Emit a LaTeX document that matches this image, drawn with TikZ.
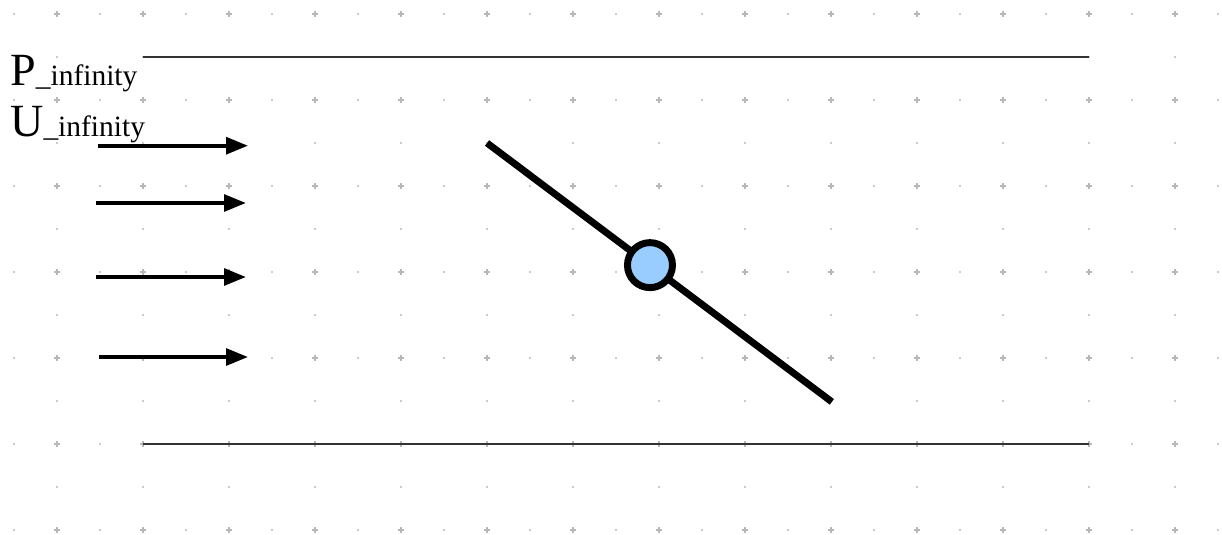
\documentclass[tikz,border=0pt]{standalone}
\usepackage{fontspec}
\setmainfont{Liberation Serif}
\usetikzlibrary{arrows.meta}
\definecolor{gridgray}{HTML}{B8B8B8}
\definecolor{hubblue}{HTML}{99CCFF}
\definecolor{walldark}{HTML}{333333}
\tikzset{
  wall/.style  = {draw=walldark, line width=1.1pt},
  flow/.style  = {-{Triangle[length=14.5pt, width=11pt]}, line width=2.6pt},
  plate/.style = {draw, line width=4.6pt},
  hub/.style   = {circle, draw, fill=hubblue, line width=4.6pt, minimum size=1.047cm, inner sep=0pt},
  lbl/.style   = {anchor=base west, inner sep=0pt}
}
\newcommand{\bigtxt}{\fontsize{30.5}{36}\selectfont}
\newcommand{\subtxt}{\fontsize{19.5}{23}\selectfont}

\begin{document}
\begin{tikzpicture}[
  gpt/.style={fill=gridgray},
  gplus/.style={draw=gridgray, line width=0.7pt}
]
  \useasboundingbox (-0.3256,0.3256) rectangle (28.093,-12.116);

  % dot grid
  \foreach \x in {0,...,28} {
    \foreach \y in {0,...,12} {
      \pgfmathtruncatemacro{\px}{mod(\x,2)}
      \pgfmathtruncatemacro{\py}{mod(\y,2)}
      \ifnum\px=1
        \ifnum\py=0
          \draw[gplus] (\x-0.06,-\y) -- (\x+0.06,-\y) (\x,-\y-0.06) -- (\x,-\y+0.06);
        \else
          \fill[gpt] (\x,-\y) circle (0.025);
        \fi
      \else
        \ifnum\py=0
          \fill[gpt] (\x,-\y) circle (0.025);
        \fi
      \fi
    }
  }

  % channel walls
  \coordinate (topL) at (3,-1);
  \coordinate (topR) at (25,-1);
  \coordinate (botL) at (3,-10);
  \coordinate (botR) at (25,-10);
  \draw[wall] (topL) -- (topR);
  \draw[wall] (botL) -- (botR);

  % labels
  \node[lbl] (pinf) at (-0.095,-1.667) {\bigtxt P\subtxt\_infinity};
  \node[lbl] (uinf) at (-0.095,-2.837) {\bigtxt U\subtxt\_infinity};

  % incoming flow
  \coordinate (f1a) at (1.953,-3.063);  \coordinate (f1b) at (5.442,-3.063);
  \coordinate (f2a) at (1.907,-4.395);  \coordinate (f2b) at (5.395,-4.395);
  \coordinate (f3a) at (1.907,-6.116);  \coordinate (f3b) at (5.395,-6.116);
  \coordinate (f4a) at (1.977,-7.977);  \coordinate (f4b) at (5.442,-7.977);
  \draw[flow] (f1a) -- (f1b);
  \draw[flow] (f2a) -- (f2b);
  \draw[flow] (f3a) -- (f3b);
  \draw[flow] (f4a) -- (f4b);

  % plate and pivot
  \coordinate (lead) at (11,-3);
  \coordinate (trail) at (19.02,-9.02);
  \draw[plate] (lead) -- (trail);
  \node[hub] (pivot) at (14.79,-5.84) {};
\end{tikzpicture}
\end{document}
